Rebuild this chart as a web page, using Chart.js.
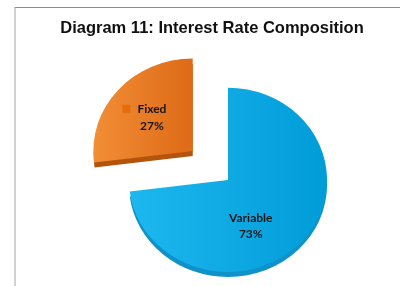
<!DOCTYPE html>
<html><head><meta charset="utf-8">
<script src="https://cdn.jsdelivr.net/npm/chart.js@4"></script>
<style>
html,body{margin:0;padding:0;background:#fff;overflow:hidden;width:400px;height:286px;}
#frame{position:absolute;left:14px;top:7px;width:420px;height:300px;border-left:2px solid #d2d2d2;border-top:1px solid #8c8c8c;}
#wrap{position:absolute;left:0;top:0;width:400px;height:286px;}
</style></head><body>
<div id="frame"></div>
<div id="wrap"><canvas id="c" width="400" height="286"></canvas></div>
<script>
const titleText = 'Diagram 11: Interest Rate Composition';
const categories = ['Variable', 'Fixed'];
const shares = [73, 27];

const K = 0.93; // vertical squash of the tilted pie
const faceColors = [['#1EB8F0', '#009CD8'], ['#F28E36', '#DE6A16']];
const edgeColors = ['#1092C8', '#B4540C'];

function squash(ctx, cx, cy) {
  ctx.translate(cx, cy); ctx.scale(1, K); ctx.translate(-cx, -cy);
}
function center(chart) {
  const a = chart.chartArea;
  return { x: (a.left + a.right) / 2, y: (a.top + a.bottom) / 2 };
}
// Chart.js ArcElement moves an exploded slice by offset / 4
function shiftOf(arc) { return (arc.options.offset || 0) / 4; }

const shiftPlugin = {
  id: 'shift',
  afterLayout(chart, args, o) {
    chart.chartArea.left += o.dx; chart.chartArea.right += o.dx;
  }
};

const depthPlugin = {
  id: 'depth',
  beforeDatasetsDraw(chart, args, o) {
    const ctx = chart.ctx;
    const meta = chart.getDatasetMeta(0);
    const c = center(chart);
    ctx.save();
    meta.data.forEach((arc, i) => {
      const p = arc.getProps(['x', 'y', 'startAngle', 'endAngle', 'outerRadius']);
      const off = shiftOf(arc);
      const mid = (p.startAngle + p.endAngle) / 2;
      ctx.save();
      ctx.translate(0, o.depth);
      squash(ctx, p.x, p.y);
      ctx.translate(Math.cos(mid) * off, Math.sin(mid) * off);
      ctx.beginPath();
      ctx.moveTo(p.x, p.y);
      ctx.arc(p.x, p.y, p.outerRadius, p.startAngle, p.endAngle);
      ctx.closePath();
      ctx.fillStyle = edgeColors[i];
      ctx.fill();
      ctx.restore();
    });
    squash(ctx, c.x, c.y);
  },
  afterDatasetsDraw(chart) { chart.ctx.restore(); }
};

const labelPlugin = {
  id: 'sliceLabels',
  afterDraw(chart, args, o) {
    const ctx = chart.ctx;
    const meta = chart.getDatasetMeta(0);
    const total = shares.reduce((s, v) => s + v, 0);
    ctx.save();
    ctx.font = 'bold 12px Lato';
    ctx.textAlign = 'center';
    ctx.textBaseline = 'middle';
    meta.data.forEach((arc, i) => {
      const p = arc.getProps(['x', 'y', 'startAngle', 'endAngle', 'outerRadius']);
      const off = shiftOf(arc);
      const mid = (p.startAngle + p.endAngle) / 2;
      const a = mid + o.angleShift[i];
      const d = o.dist * p.outerRadius;
      const x = p.x + Math.cos(mid) * off + Math.cos(a) * d;
      const y = p.y + (Math.sin(mid) * off + Math.sin(a) * d) * K;
      const name = categories[i];
      const pct = Math.round(shares[i] / total * 100) + '%';
      ctx.fillStyle = '#151515';
      ctx.fillText(name, x, y - o.gap / 2);
      ctx.fillText(pct, x, y + o.gap / 2);
      if (o.keys[i]) {
        const w = ctx.measureText(name).width;
        ctx.fillStyle = o.keyColors[i];
        ctx.fillRect(x - w / 2 - 7 - 8, y - o.gap / 2 - 4.5, 8, 8);
      }
    });
    ctx.restore();
  }
};

new Chart(document.getElementById('c'), {
  type: 'pie',
  data: {
    labels: categories,
    datasets: [{
      data: shares,
      borderWidth: 0,
      offset: [0, 188],
      backgroundColor: (ctx) => {
        const chart = ctx.chart;
        const i = ctx.dataIndex;
        if (!chart.chartArea) return faceColors[i][0];
        const c = center(chart);
        const r = 99;
        const g = chart.ctx.createLinearGradient(c.x - r, 0, i === 0 ? c.x + r : c.x, 0);
        g.addColorStop(0, faceColors[i][0]);
        g.addColorStop(1, faceColors[i][1]);
        return g;
      }
    }]
  },
  options: {
    responsive: false,
    animation: false,
    events: [],
    radius: 99,
    layout: { padding: { left: 24, right: 0, top: 0, bottom: 0 } },
    plugins: {
      legend: { display: false },
      tooltip: { enabled: false },
      title: {
        display: true,
        text: titleText,
        color: '#111111',
        font: { family: '"Liberation Sans", Arial, sans-serif', size: 16.5, weight: 'bold', lineHeight: 1.2 },
        padding: { top: 19, bottom: 35 }
      },
      shift: { dx: 16 },
      depth: { depth: 5 },
      sliceLabels: { angleShift: [0.417, 0.0], dist: 0.55, gap: 16.5, keys: [false, true], keyColors: ['#0099D6', '#E46C0A'] }
    }
  },
  plugins: [shiftPlugin, depthPlugin, labelPlugin]
});
</script>
</body></html>
